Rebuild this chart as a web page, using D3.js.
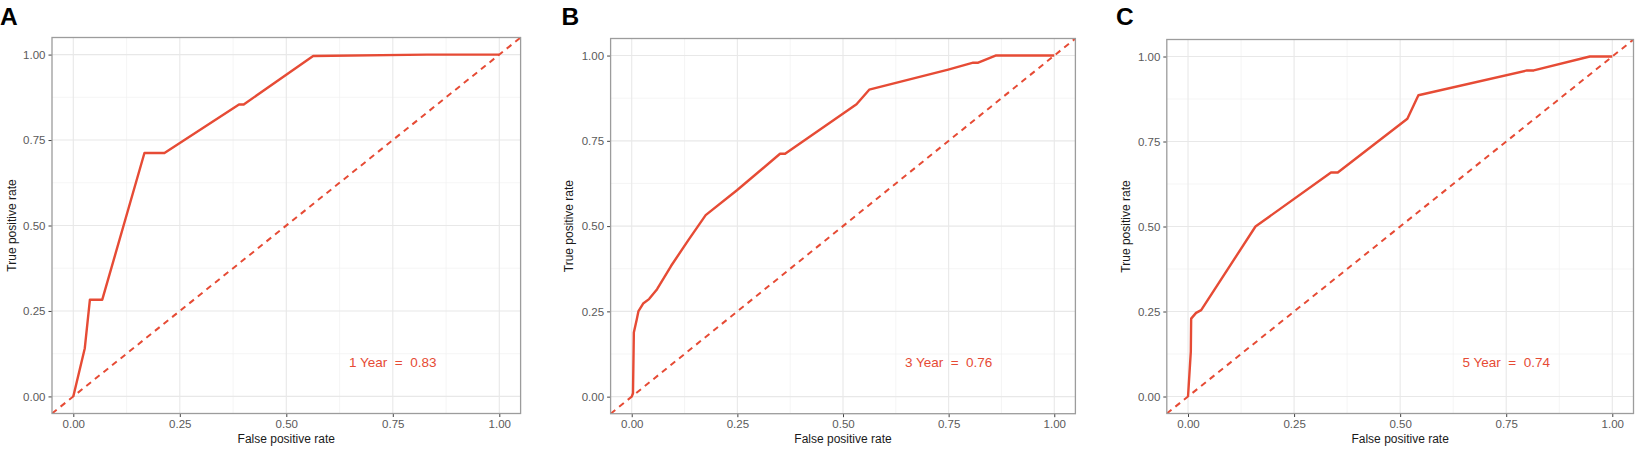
<!DOCTYPE html>
<html>
<head>
<meta charset="utf-8">
<script src="https://cdn.jsdelivr.net/npm/d3@7"></script>
<style>
  html, body { margin: 0; padding: 0; background: #fff; }
  svg { display: block; }
  text { font-family: "Liberation Sans", Arial, Helvetica, sans-serif; }
</style>
</head>
<body>
<svg id="chart" width="1638" height="451"></svg>
<script>
// ---------------- DATA ----------------
const panelLabels = ["A", "B", "C"];
const aucLabels = ["1 Year  =  0.83", "3 Year  =  0.76", "5 Year  =  0.74"];
const xTitle = "False positive rate";
const yTitle = "True positive rate";
const tickValues = [0, 0.25, 0.5, 0.75, 1];
const tickLabels = ["0.00", "0.25", "0.50", "0.75", "1.00"];
const minorTicks = [0.125, 0.375, 0.625, 0.875];

// ROC curve 1 year
const fpr1 = [0, 0.027, 0.039, 0.068, 0.167, 0.214, 0.389, 0.400, 0.563, 0.83, 1.0];
const tpr1 = [0, 0.141, 0.283, 0.283, 0.712, 0.712, 0.854, 0.854, 0.996, 1.0, 1.0];
// ROC curve 3 years
const fpr3 = [0, 0.003, 0.005, 0.012, 0.016, 0.027, 0.041, 0.060, 0.093, 0.134, 0.175, 0.249, 0.351, 0.363, 0.532, 0.562, 0.749, 0.808, 0.820, 0.861, 1.0];
const tpr3 = [0, 0.010, 0.188, 0.227, 0.251, 0.273, 0.286, 0.315, 0.383, 0.459, 0.532, 0.605, 0.712, 0.712, 0.857, 0.900, 0.959, 0.979, 0.979, 1.0, 1.0];
// ROC curve 5 years
const fpr5 = [0, 0.0066, 0.0074, 0.019, 0.031, 0.159, 0.337, 0.353, 0.517, 0.543, 0.799, 0.815, 0.947, 1.0];
const tpr5 = [0, 0.132, 0.229, 0.246, 0.254, 0.500, 0.659, 0.659, 0.817, 0.886, 0.959, 0.959, 1.0, 1.0];

const curves = [[fpr1, tpr1], [fpr3, tpr3], [fpr5, tpr5]];

// ---------------- LAYOUT ----------------
const panels = [
  { left: 52,     right: 520.6,  top: 37.5, bottom: 413.5, labelX: 0,      ytitleX: 15.5 },
  { left: 610.6,  right: 1075.4, top: 38.5, bottom: 413.7, labelX: 561.5,  ytitleX: 573 },
  { left: 1166.8, right: 1633.5, top: 39.5, bottom: 413.5, labelX: 1116,   ytitleX: 1130 }
];
const red = "#E64B35";

const svg = d3.select("#chart");

panels.forEach((p, i) => {
  const x = d3.scaleLinear().domain([-0.05, 1.05]).range([p.left, p.right]);
  const y = d3.scaleLinear().domain([-0.05, 1.05]).range([p.bottom, p.top]);
  const g = svg.append("g");

  // grid minor
  g.selectAll(".gxm").data(minorTicks).join("line")
    .attr("x1", d => x(d)).attr("x2", d => x(d))
    .attr("y1", p.top).attr("y2", p.bottom)
    .attr("stroke", "#F1F1F1").attr("stroke-width", 0.7);
  g.selectAll(".gym").data(minorTicks).join("line")
    .attr("y1", d => y(d)).attr("y2", d => y(d))
    .attr("x1", p.left).attr("x2", p.right)
    .attr("stroke", "#F1F1F1").attr("stroke-width", 0.7);
  // grid major
  g.selectAll(".gx").data(tickValues).join("line")
    .attr("x1", d => x(d)).attr("x2", d => x(d))
    .attr("y1", p.top).attr("y2", p.bottom)
    .attr("stroke", "#E8E8E8").attr("stroke-width", 1.1);
  g.selectAll(".gy").data(tickValues).join("line")
    .attr("y1", d => y(d)).attr("y2", d => y(d))
    .attr("x1", p.left).attr("x2", p.right)
    .attr("stroke", "#E8E8E8").attr("stroke-width", 1.1);

  // axes via d3
  const xAxis = d3.axisBottom(x).tickValues(tickValues)
    .tickFormat((d, k) => tickLabels[k]).tickSize(3.5).tickPadding(3);
  const yAxis = d3.axisLeft(y).tickValues(tickValues)
    .tickFormat((d, k) => tickLabels[k]).tickSize(3.5).tickPadding(3);
  const gx = g.append("g").attr("transform", `translate(0,${p.bottom})`).call(xAxis);
  const gy = g.append("g").attr("transform", `translate(${p.left},0)`).call(yAxis);
  [gx, gy].forEach(a => {
    a.select(".domain").remove();
    a.selectAll(".tick line").attr("stroke", "#444").attr("stroke-width", 1);
    a.selectAll(".tick text").attr("fill", "#5a5a5a").attr("font-size", 11.5)
      .attr("font-family", "'Liberation Sans', Arial, sans-serif");
  });

  // clip for diagonal
  const clipId = "clip" + i;
  svg.append("clipPath").attr("id", clipId).append("rect")
    .attr("x", p.left).attr("y", p.top)
    .attr("width", p.right - p.left).attr("height", p.bottom - p.top);

  // diagonal reference line
  g.append("line")
    .attr("x1", x(-0.05)).attr("y1", y(-0.05))
    .attr("x2", x(1.05)).attr("y2", y(1.05))
    .attr("stroke", red).attr("stroke-width", 2)
    .attr("stroke-dasharray", "6,5")
    .attr("clip-path", `url(#${clipId})`);

  // ROC curve
  const [fx, ty] = curves[i];
  const pts = fx.map((v, k) => [v, ty[k]]);
  g.append("path").datum(pts)
    .attr("d", d3.line().x(d => x(d[0])).y(d => y(d[1])))
    .attr("fill", "none").attr("stroke", red).attr("stroke-width", 2.4)
    .attr("stroke-linejoin", "round").attr("stroke-linecap", "butt");

  // panel border
  g.append("rect")
    .attr("x", p.left).attr("y", p.top)
    .attr("width", p.right - p.left).attr("height", p.bottom - p.top)
    .attr("fill", "none").attr("stroke", "#9C9C9C").attr("stroke-width", 1.3);

  // AUC annotation
  g.append("text")
    .attr("x", x(0.75)).attr("y", y(0.1)).attr("dy", "0.35em")
    .attr("text-anchor", "middle").attr("fill", red)
    .attr("font-size", 13.5).style("white-space", "pre")
    .text(aucLabels[i]);

  // axis titles
  g.append("text")
    .attr("x", (p.left + p.right) / 2).attr("y", 442.5)
    .attr("text-anchor", "middle").attr("fill", "#1a1a1a")
    .attr("font-size", 12).text(xTitle);
  g.append("text")
    .attr("transform", `translate(${p.ytitleX},${(p.top + p.bottom) / 2}) rotate(-90)`)
    .attr("text-anchor", "middle").attr("fill", "#1a1a1a")
    .attr("font-size", 12).text(yTitle);

  // panel label
  svg.append("text")
    .attr("x", p.labelX).attr("y", 25)
    .attr("font-size", 24.5).attr("font-weight", "bold").attr("fill", "#000")
    .text(panelLabels[i]);
});
</script>
</body>
</html>
